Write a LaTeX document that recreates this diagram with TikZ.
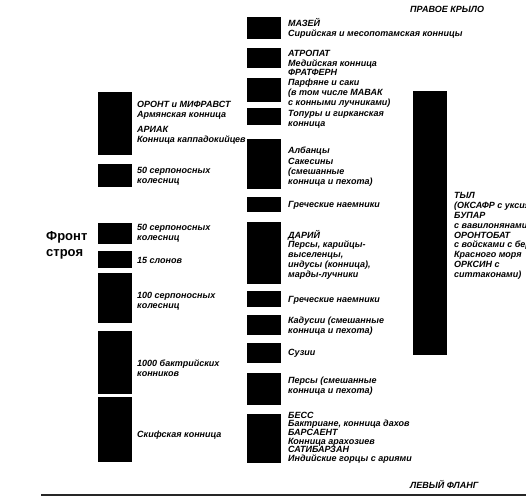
\documentclass[tikz,border=0pt]{standalone}
\usepackage{fontspec}
\setmainfont{Liberation Sans}
\begin{document}
\begin{tikzpicture}[x=1pt,y=-1pt,
  blk/.style={fill=black},
  lab/.style={anchor=west,align=left,inner sep=0pt,font=\fontsize{9}{9.8}\selectfont\bfseries\itshape},
  labt/.style={anchor=west,align=left,inner sep=0pt,font=\fontsize{9}{8.6}\selectfont\bfseries\itshape},
  head/.style={anchor=west,inner sep=0pt,font=\fontsize{9}{10}\selectfont\bfseries\itshape},
  front/.style={anchor=west,align=left,inner sep=0pt,font=\fontsize{13}{16}\selectfont\bfseries}]
\useasboundingbox (0,0) rectangle (526,503);
% left column boxes
\fill[blk] (98,92) rectangle (132,155);
\fill[blk] (98,164) rectangle (132,187);
\fill[blk] (98,223) rectangle (132,244);
\fill[blk] (98,251) rectangle (132,268);
\fill[blk] (98,273) rectangle (132,323);
\fill[blk] (98,331) rectangle (132,394);
\fill[blk] (98,397) rectangle (132,462);
% middle column boxes
\fill[blk] (247,17) rectangle (281,39);
\fill[blk] (247,48) rectangle (281,68);
\fill[blk] (247,78) rectangle (281,102);
\fill[blk] (247,108) rectangle (281,125);
\fill[blk] (247,139) rectangle (281,189);
\fill[blk] (247,197) rectangle (281,212);
\fill[blk] (247,222) rectangle (281,284);
\fill[blk] (247,291) rectangle (281,307);
\fill[blk] (247,315) rectangle (281,335);
\fill[blk] (247,343) rectangle (281,363);
\fill[blk] (247,373) rectangle (281,405);
\fill[blk] (247,414) rectangle (281,463);
% right box
\fill[blk] (413,91) rectangle (447,355);
% bottom rule
\draw[line width=1.6pt,black!85] (41,495) -- (526,495);
% headings
\node[head] (pk) at (410,9) {ПРАВОЕ КРЫЛО};
\node[head] (lf) at (410,484) {ЛЕВЫЙ ФЛАНГ};
\node[front] (fs) at (46,245) {Фронт\\строя};
% left labels
\node[lab] (l1) at (137,110) {ОРОНТ и МИФРАВСТ\\Армянская конница};
\node[lab] (l2) at (137,135) {АРИАК\\Конница каппадокийцев};
\node[lab] (l3) at (137,176) {50 серпоносных\\колесниц};
\node[lab] (l4) at (137,233) {50 серпоносных\\колесниц};
\node[lab] (l5) at (137,260) {15 слонов};
\node[lab] (l6) at (137,301.5) {100 серпоносных\\колесниц};
\node[lab] (l7) at (137,368.5) {1000 бактрийских\\конников};
\node[lab] (l8) at (137,435) {Скифская конница};
% middle labels
\node[lab] (m1) at (288,28) {МАЗЕЙ\\Сирийская и месопотамская конницы};
\node[lab] (m2) at (288,78.5) {АТРОПАТ\\Медийская конница\\ФРАТФЕРН\\Парфяне и саки\\(в том числе МАВАК\\с конными лучниками)};
\node[lab] (m3) at (288,119) {Топуры и гирканская\\конница};
\node[lab] (m4) at (288,151) {Албанцы};
\node[lab] (m5) at (288,172.5) {Сакесины\\(смешанные\\конница и пехота)};
\node[lab] (m6) at (288,205) {Греческие наемники};
\node[lab] (m7) at (288,254.5) {ДАРИЙ\\Персы, карийцы-\\выселенцы,\\индусы (конница),\\марды-лучники};
\node[lab] (m8) at (288,300) {Греческие наемники};
\node[lab] (m9) at (288,326) {Кадусии (смешанные\\конница и пехота)};
\node[lab] (m10) at (288,353) {Сузии};
\node[lab] (m11) at (288,386.5) {Персы (смешанные\\конница и пехота)};
\node[labt] (m12) at (288,437.5) {БЕСС\\Бактриане, конница дахов\\БАРСАЕНТ\\Конница арахозиев\\САТИБАРЗАН\\Индийские горцы с ариями};
% right label
\node[lab] (r1) at (454,236) {ТЫЛ\\(ОКСАФР с уксиями\\БУПАР\\с вавилонянами\\ОРОНТОБАТ\\с войсками с берегов\\Красного моря\\ОРКСИН с\\ситтаконами)};
\end{tikzpicture}
\end{document}
